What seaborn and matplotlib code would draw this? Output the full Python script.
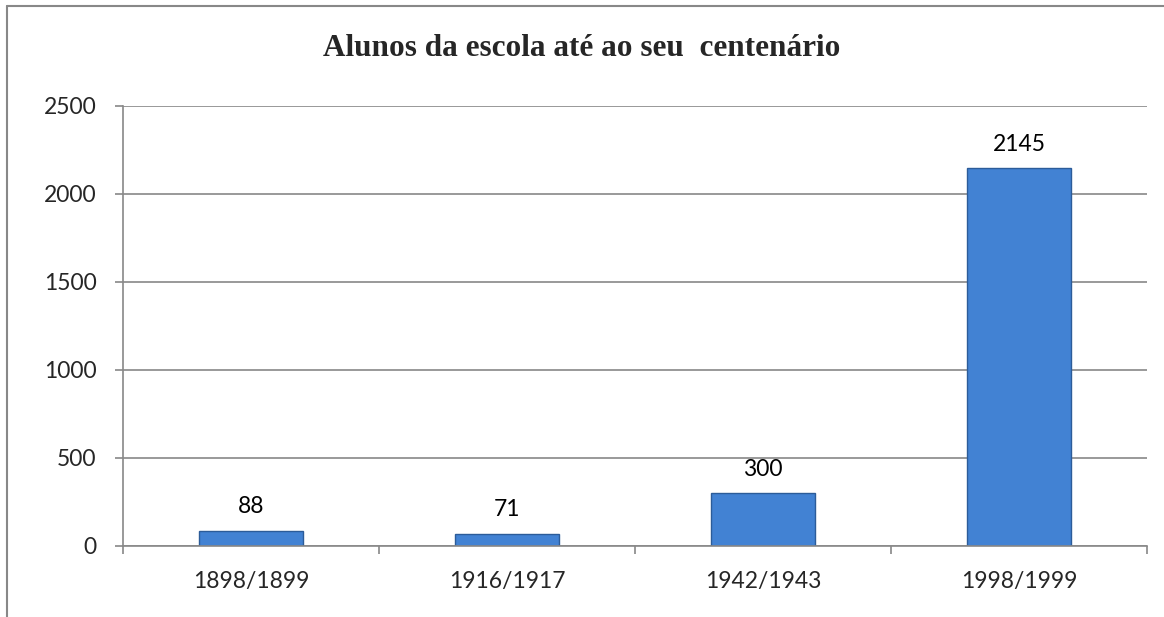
import numpy as np
import pandas as pd
import matplotlib
matplotlib.use("Agg")
import matplotlib.pyplot as plt
import seaborn as sns
from matplotlib.lines import Line2D

# Data
anos = ["1898/1899", "1916/1917", "1942/1943", "1998/1999"]
alunos = [88, 71, 300, 2145]
titulo = "Alunos da escola até ao seu  centenário"

df = pd.DataFrame({"ano": anos, "alunos": alunos})

sns.set_style("white")
plt.rcParams["font.family"] = ["Lato", "DejaVu Sans"]

fig = plt.figure(figsize=(11.64, 6.17), dpi=100)
ax = fig.add_axes([123 / 1164, 1 - 546 / 617, 1024 / 1164, 440 / 617])

sns.barplot(x="ano", y="alunos", data=df, ax=ax, color="#4282D3",
            width=0.41, edgecolor="#2C5C99", linewidth=1.0, saturation=1)

# Value labels
for i, v in enumerate(alunos):
    ax.annotate(str(v), (i, v), xytext=(0, 17), textcoords="offset points",
                ha="center", va="center", fontsize=16.5, color="black")

ax.set_ylim(0, 2500)
ax.set_xlim(-0.5, len(anos) - 0.5)
ax.set_yticks(range(0, 2501, 500))
ax.set_xlabel("")
ax.set_ylabel("")

grid_col = "#888888"
ax.yaxis.grid(True, color=grid_col, linewidth=1.2)
ax.set_axisbelow(True)
for s in ["top", "right"]:
    ax.spines[s].set_visible(False)
for s in ["left", "bottom"]:
    ax.spines[s].set_color(grid_col)
    ax.spines[s].set_linewidth(1.2)

# ticks: y outward, x at category boundaries
ax.tick_params(axis="y", direction="out", length=6, width=1.2, color=grid_col,
               labelsize=16.5, pad=13, left=True)
ax.set_xticks(np.arange(-0.5, len(anos)), minor=True)
ax.tick_params(axis="x", which="minor", direction="out", length=6, width=1.2,
               color=grid_col, bottom=True)
ax.tick_params(axis="x", which="major", length=0, labelsize=16.5, pad=18)

fig.suptitle(titulo, x=0.5, y=1 - 49 / 617, va="center",
             fontsize=22.5, fontweight="bold", family="Liberation Serif")

# outer chart frame (left and top only, as in reference)
x0 = 7 / 1164
y0 = 1 - 6 / 617
fig.add_artist(Line2D([x0, x0], [0, y0], transform=fig.transFigure,
                      color=grid_col, linewidth=1.5))
fig.add_artist(Line2D([x0, 1], [y0, y0], transform=fig.transFigure,
                      color=grid_col, linewidth=1.5))

fig.savefig("out.png", dpi=100)
